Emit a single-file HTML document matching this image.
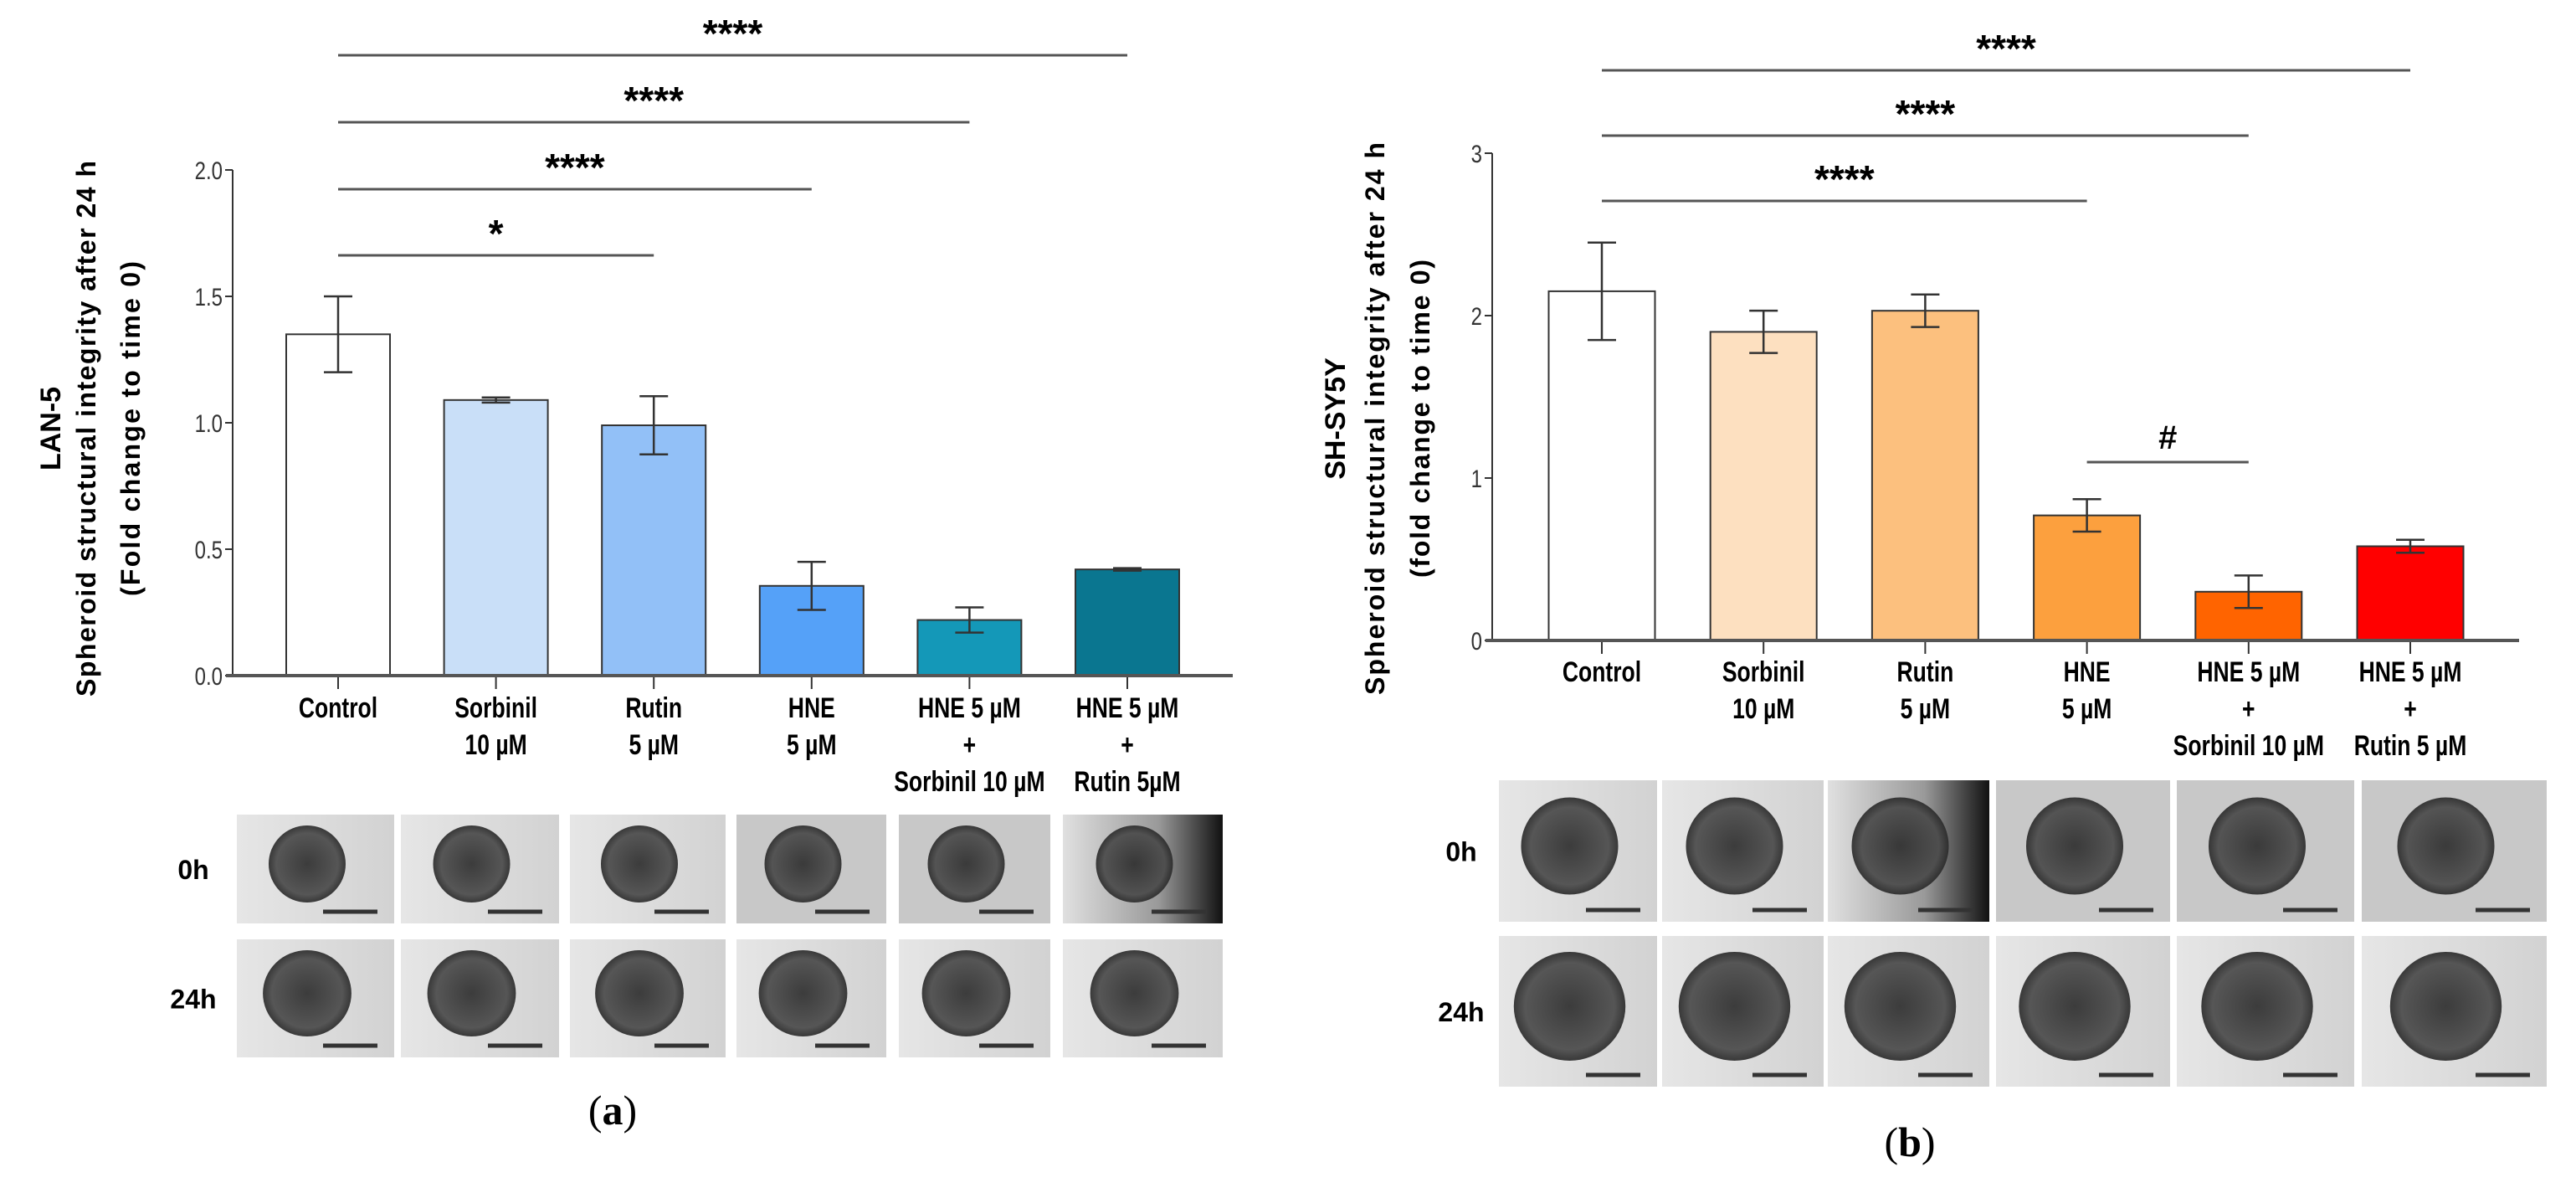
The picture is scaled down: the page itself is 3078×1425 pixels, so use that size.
<!DOCTYPE html>
<html><head><meta charset="utf-8"><style>
html,body{margin:0;padding:0;background:#fff;}
svg{display:block;}
</style></head><body>
<svg id="fig" width="3078" height="1425" viewBox="0 0 3078 1425" xmlns="http://www.w3.org/2000/svg">
<defs>
<radialGradient id="sph" cx="50%" cy="50%" r="50%"><stop offset="0" stop-color="#2e2e2e"/><stop offset="0.8" stop-color="#4a4a4a"/><stop offset="1" stop-color="#2a2a2a"/></radialGradient>
<linearGradient id="bgL" x1="0" x2="1"><stop offset="0" stop-color="#e6e6e6"/><stop offset="1" stop-color="#d2d2d2"/></linearGradient>
<linearGradient id="bgD" x1="0" x2="1"><stop offset="0" stop-color="#e0e0e0"/><stop offset="0.6" stop-color="#999"/><stop offset="1" stop-color="#111"/></linearGradient>
</defs>
<g id="chartA"></g>
<g id="chartB"></g>
<g id="imgs"></g>
<text x="732" y="1343" font-family="Liberation Serif, serif" font-size="50" text-anchor="middle">(<tspan font-weight="bold">a</tspan>)</text>
<text x="2282" y="1381" font-family="Liberation Serif, serif" font-size="50" text-anchor="middle">(<tspan font-weight="bold">b</tspan>)</text>
</svg>
<script>
const NS='http://www.w3.org/2000/svg';
// Panel A data (LAN-5)
const catsA=[["Control"],["Sorbinil","10 µM"],["Rutin","5 µM"],["HNE","5 µM"],["HNE 5 µM","+","Sorbinil 10 µM"],["HNE 5 µM","+","Rutin 5µM"]];
const valsA=[1.35,1.09,0.99,0.355,0.22,0.42];
const errsA=[0.15,0.01,0.115,0.095,0.05,0.005];
const ticksA=[0,0.5,1.0,1.5,2.0];
const tickLabelsA=["0.0","0.5","1.0","1.5","2.0"];
const colorsA=["#ffffff","#c9dff8","#92c0f7","#55a1f8","#1498b8","#0a7690"];
const sigA=[[0,5,"****"],[0,4,"****"],[0,3,"****"],[0,2,"*"]];
// Panel B data (SH-SY5Y)
const catsB=[["Control"],["Sorbinil","10 µM"],["Rutin","5 µM"],["HNE","5 µM"],["HNE 5 µM","+","Sorbinil 10 µM"],["HNE 5 µM","+","Rutin 5 µM"]];
const valsB=[2.15,1.9,2.03,0.77,0.3,0.58];
const errsB=[0.3,0.13,0.1,0.1,0.1,0.04];
const ticksB=[0,1,2,3];
const tickLabelsB=["0","1","2","3"];
const colorsB=["#ffffff","#fde0c0","#fcc07e","#fca03e","#ff6400","#ff0000"];
const sigB=[[0,5,"****"],[0,4,"****"],[0,3,"****"],[3,4,"#"]];

function el(p,tag,attrs,txt){const e=document.createElementNS(NS,tag);for(const k in attrs)e.setAttribute(k,attrs[k]);if(txt!==undefined)e.textContent=txt;p.appendChild(e);return e;}

function chart(g,cfg){
  const y=v=>cfg.y0-(v/cfg.ymax)*(cfg.y0-cfg.ytop);
  const x=i=>cfg.x0+i*cfg.step;
  let a=el(g,'line',{x1:cfg.axisX,x2:cfg.axisX,y1:y(cfg.ymax),y2:cfg.y0,stroke:'#333','stroke-width':2});
  
  cfg.ticks.forEach((t,i)=>{
    let l=el(g,'line',{x1:cfg.axisX-9,x2:cfg.axisX,y1:y(t),y2:y(t),stroke:'#333','stroke-width':2});
    
    let tx=el(g,'text',{x:cfg.axisX-12,y:y(t)+11,'font-family':'Liberation Sans, sans-serif','font-size':30,'text-anchor':'end',fill:'#333',transform:`translate(${cfg.axisX-12},0) scale(0.8,1) translate(${-(cfg.axisX-12)},0)`},cfg.tickLabels[i]);
    
  });
  cfg.vals.forEach((v,i)=>{
    const cx=x(i),w=cfg.bw;
    let r=el(g,'rect',{x:cx-w/2,y:y(v),width:w,height:cfg.y0-y(v),fill:cfg.colors[i],stroke:'#333','stroke-width':2});
    
    const e=cfg.errs[i];
    let eb=el(g,'path',{d:`M${cx},${y(v+e)}V${y(v-e)}M${cx-17},${y(v+e)}H${cx+17}M${cx-17},${y(v-e)}H${cx+17}`,stroke:'#333','stroke-width':2.5,fill:'none'});
    
    let tk=el(g,'line',{x1:cx,x2:cx,y1:cfg.y0,y2:cfg.y0+16,stroke:'#333','stroke-width':2});
    
    cfg.cats[i].forEach((s,j)=>{
      let t=el(g,'text',{x:cx,y:cfg.labY+j*44,'font-family':'Liberation Sans, sans-serif','font-size':34,'font-weight':'bold','text-anchor':'middle',transform:`translate(${cx},0) scale(0.78,1) translate(${-cx},0)`},s);
      
    });
  });
  let ax=el(g,'line',{x1:cfg.axisX-8,x2:cfg.axisEnd,y1:cfg.y0,y2:cfg.y0,stroke:'#555','stroke-width':4});
  
  cfg.sig.forEach((s,k)=>{
    const ly=cfg.sigY[k];
    let l=el(g,'line',{x1:x(s[0]),x2:x(s[1]),y1:ly,y2:ly,stroke:'#555','stroke-width':3});
    
    let t=el(g,'text',{x:(x(s[0])+x(s[1]))/2,y:ly-(s[2]=='#'?16:10),'font-family':'Liberation Sans, sans-serif','font-size':s[2]=='#'?40:46,'font-weight':'bold','text-anchor':'middle'},s[2]);
    
  });
  const tl=cfg.title;
  tl.lines.forEach((s,j)=>{
    let t=el(g,'text',{x:0,y:0,'font-family':'Liberation Sans, DejaVu Sans, sans-serif','font-size':j==0?34:32,'font-weight':'bold','text-anchor':'middle',transform:`translate(${tl.xs[j]},${tl.cy}) rotate(-90)`},s);
    if(tl.lens[j])t.setAttribute('textLength',tl.lens[j]);
    
  });
}
chart(document.getElementById('chartA'),{cats:catsA,vals:valsA,errs:errsA,ticks:ticksA,tickLabels:tickLabelsA,colors:colorsA,sig:sigA,
  ymax:2.0,y0:807,ytop:203,axisX:278,axisEnd:1473,x0:404,step:188.6,bw:124,labY:857,sigY:[66,146,226,305],
  title:{lines:["LAN-5","Spheroid  structural integrity after 24 h","(Fold change to time 0)"],xs:[72,114,167],cy:512,lens:[0,640,400]}});
chart(document.getElementById('chartB'),{cats:catsB,vals:valsB,errs:errsB,ticks:ticksB,tickLabels:tickLabelsB,colors:colorsB,sig:sigB,
  ymax:3,y0:765,ytop:183,axisX:1783,axisEnd:3010,x0:1914,step:193.2,bw:127,labY:814,sigY:[84,162,240,552],
  title:{lines:["SH-SY5Y","Spheroid structural integrity after 24 h","(fold change to time 0)"],xs:[1607,1654,1708],cy:500,lens:[0,660,380]}});

// spheroid images
const imgs=document.getElementById('imgs');
const colsA=[[283,471],[479,668],[681,867],[880,1059],[1074,1255],[1270,1461]];
const rowsA=[[973,1103],[1122,1263]];
const colsB=[[1791,1980],[1986,2179],[2184,2377],[2385,2593],[2601,2813],[2822,3043]];
const rowsB=[[932,1101],[1118,1298]];
function panel(cols,rows,rad,labX,labs){
  rows.forEach((r,ri)=>{
    let t=el(imgs,'text',{x:labX,y:(r[0]+r[1])/2+12,'font-family':'Liberation Sans, sans-serif','font-size':32,'font-weight':'bold','text-anchor':'middle'},labs[ri]);
    
    cols.forEach((c,ci)=>{
      const dark=(ri==0&&(ci==2&&cols===colsB||ci==5&&cols===colsA));
      let rc=el(imgs,'rect',{x:c[0],y:r[0],width:c[1]-c[0],height:r[1]-r[0],fill:dark?'url(#bgD)':(ci>=3&&ri==0?'#c8c8c8':'url(#bgL)')});
      
      const cx=(c[0]+c[1])/2-10, cy=(r[0]+r[1])/2-6;
      el(imgs,'ellipse',{cx:cx,cy:cy,rx:rad*(ri?1.15:1),ry:rad*(ri?1.12:1),fill:'url(#sph)',opacity:0.92});
      el(imgs,'line',{x1:c[1]-85,x2:c[1]-20,y1:r[1]-14,y2:r[1]-14,stroke:'#333','stroke-width':5});
    });
  });
}
panel(colsA,rowsA,46,231,["0h","24h"]);
panel(colsB,rowsB,58,1746,["0h","24h"]);
</script>
</body></html>
